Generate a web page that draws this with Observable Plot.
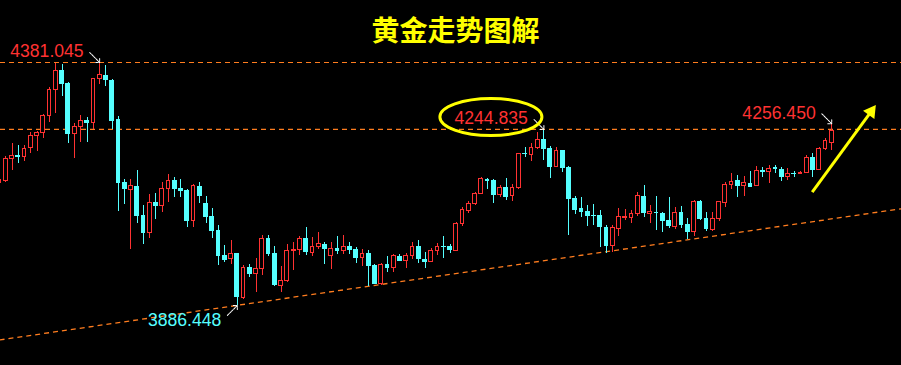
<!DOCTYPE html>
<html><head><meta charset="utf-8">
<script src="https://cdn.jsdelivr.net/npm/d3@7"></script>
<script src="https://cdn.jsdelivr.net/npm/@observablehq/plot@0.6"></script>
<style>html,body{margin:0;padding:0;background:#000;overflow:hidden}#chart svg{display:block}</style>
</head><body><div id="chart"></div>
<script>
const title = "黄金走势图解";
const open = [4135.4,4139.4,4184.2,4191.8,4188.3,4207.4,4231.0,4237.1,4272.6,4325.5,4364.8,4337.7,4235.1,4249.4,4263.0,4257.5,4347.1,4354.6,4344.4,4265.0,4136.2,4121.9,4128.7,4069.6,4033.6,4095.5,4088.6,4124.0,4140.9,4124.6,4120.5,4058.0,4128.7,4094.0,4067.6,4039.1,3988.2,3980.7,3991.7,3901.3,3963.2,3950.2,3960.3,4022.2,3991.7,3925.7,3936.7,3997.0,3999.8,4022.2,3992.3,4005.1,4011.2,3986.8,4001.9,3996.4,4006.5,3999.8,3982.7,3992.9,3967.3,3929.2,3969.3,3962.4,3986.2,3976.6,3987.6,4005.9,3980.1,3974.6,3997.8,4006.5,4006.5,3997.0,4052.3,4079.2,4093.4,4113.8,4142.9,4140.9,4111.0,4126.0,4108.9,4125.2,4196.4,4193.2,4207.4,4224.3,4206.0,4167.9,4201.3,4166.7,4103.6,4083.3,4077.2,4069.6,4069.6,4045.8,4006.9,4042.6,4063.9,4064.1,4073.1,4108.3,4073.1,4076.4,4074.3,4059.5,4045.8,4075.7,4051.3,4035.6,4098.1,4062.9,4041.1,4062.9,4095.5,4132.1,4140.9,4130.1,4134.8,4130.1,4161.2,4157.8,4166.7,4163.3,4148.4,4154.5,4153.7,4155.7,4187.7,4162.6,4204.6,4217.6];
const high = [4149.0,4189.7,4215.6,4211.5,4211.5,4239.2,4241.2,4275.2,4330.8,4379.6,4377.0,4340.3,4256.3,4272.6,4268.5,4349.0,4381.045,4374.9,4346.4,4271.1,4142.3,4142.3,4161.2,4090.0,4111.8,4113.8,4136.8,4152.5,4147.6,4142.3,4122.6,4132.1,4136.2,4107.7,4083.3,4049.3,4008.6,4018.7,3993.0,3967.3,3969.9,3982.1,4028.3,4028.3,4006.5,3965.8,4010.6,4014.7,4026.9,4045.2,4024.2,4034.4,4014.1,4014.1,4026.9,4028.9,4014.7,4005.1,3999.8,3998.4,3969.9,3971.3,3986.2,3989.6,3990.3,3991.7,4014.1,4018.7,3994.9,4003.1,4012.0,4026.9,4010.0,4055.4,4086.5,4099.1,4117.1,4146.4,4145.5,4142.3,4131.3,4144.9,4132.7,4196.4,4207.4,4216.8,4239.2,4244.835,4210.1,4207.4,4201.9,4169.4,4108.3,4105.7,4090.0,4092.0,4079.8,4049.3,4049.3,4082.9,4082.3,4079.8,4117.1,4130.7,4090.0,4108.3,4076.4,4106.3,4086.5,4088.0,4062.9,4100.2,4100.2,4076.4,4076.4,4096.7,4137.4,4155.7,4151.0,4149.0,4159.8,4169.4,4166.7,4171.4,4171.4,4166.7,4164.7,4159.8,4159.8,4191.1,4195.2,4208.7,4225.7,4256.45];
const low = [4128.7,4137.8,4161.2,4174.9,4180.2,4196.4,4200.5,4226.4,4259.5,4277.9,4312.5,4215.6,4185.0,4217.6,4218.8,4244.1,4335.7,4332.2,4244.1,4078.4,4092.0,4000.4,4054.0,4009.6,4022.2,4061.5,4076.4,4096.7,4105.7,4106.9,4045.8,4044.6,4094.7,4054.0,4023.4,3968.5,3974.0,3969.9,3886.448,3898.0,3942.8,3913.5,3948.1,3986.2,3926.1,3913.5,3933.3,3957.7,3988.2,3988.2,3986.2,3999.8,3969.9,3959.7,3990.3,3990.3,3990.3,3972.5,3965.8,3925.1,3928.2,3927.2,3953.6,3954.2,3976.0,3962.4,3979.5,3972.5,3962.4,3973.6,3988.2,3983.1,3991.7,3996.0,4047.6,4073.1,4090.0,4112.4,4122.6,4094.7,4105.7,4100.2,4098.7,4121.9,4188.3,4179.5,4203.4,4181.6,4144.3,4166.9,4156.5,4028.9,4071.7,4066.2,4047.2,4049.3,4005.1,3992.9,3994.9,4026.3,4058.8,4054.0,4067.6,4066.2,4054.0,4039.1,4035.6,4042.6,4040.5,4042.6,4020.2,4026.9,4059.5,4037.7,4037.7,4058.0,4085.3,4121.9,4106.9,4108.3,4126.6,4128.7,4146.4,4135.4,4155.7,4139.4,4140.9,4147.6,4153.1,4154.5,4147.6,4161.2,4201.9,4201.9];
const close = [4140.9,4185.0,4191.1,4188.3,4205.4,4231.0,4238.0,4272.6,4325.5,4363.3,4336.9,4234.5,4250.2,4262.4,4257.5,4347.9,4354.6,4344.4,4261.0,4135.4,4123.2,4128.7,4068.2,4033.6,4095.5,4088.6,4124.0,4140.3,4123.2,4119.1,4058.0,4128.7,4108.9,4066.2,4037.7,3986.8,3978.0,3991.7,3903.3,3963.2,3949.5,3961.1,4022.2,3990.3,3927.2,3936.7,3997.8,4000.4,4021.8,3994.9,4005.9,4012.0,4000.4,4001.9,3997.0,4005.9,3998.4,3982.7,3991.7,3966.4,3929.2,3969.3,3961.8,3986.2,3976.6,3987.6,4005.9,3979.5,3974.6,3997.8,4005.9,4004.5,3998.4,4052.7,4079.8,4093.4,4113.8,4142.9,4139.4,4110.3,4126.0,4105.7,4126.0,4195.2,4193.2,4207.4,4223.7,4204.0,4167.9,4201.3,4165.9,4102.8,4079.8,4076.4,4067.6,4068.2,4044.6,4006.5,4043.2,4065.6,4065.8,4073.1,4108.3,4073.1,4076.4,4074.3,4058.0,4047.2,4075.7,4048.7,4035.6,4098.1,4061.5,4041.1,4062.9,4096.1,4132.7,4138.2,4129.3,4134.8,4127.2,4161.2,4157.8,4164.7,4162.6,4147.6,4154.5,4153.1,4155.7,4187.1,4161.2,4205.4,4221.7,4242.6];

// horizontal resistance levels
const levels = [4381.045, 4244.835];
// rising support trend line (index, price)
const trendIdx = [0, 144.2];
const trendPrice = [3816.3, 4083.5];
// annotated extremes
const peakIdx = [16, 87, 133];
const peakPrice = [4381.045, 4244.835, 4256.45];
const troughIdx = [38];
const troughPrice = [3886.448];
const circledIdx = [87];
const circledPrice = [4244.835];
// yellow up arrow (tail, head) in index/price
const arrowIdx = [129.88, 139.29];
const arrowPrice = [4117.05, 4281.1];

const RED = "#ff3232", CYAN = "#55ffff", ORANGE = "#ff7d1f", YELLOW = "#ffff00";

const candles = open.map((o, i) => ({i, o, h: high[i], l: low[i], c: close[i], up: close[i] >= o}));
const ups = candles.filter(d => d.up), downs = candles.filter(d => !d.up);
const peaks = peakIdx.map((i, k) => ({i, p: peakPrice[k]}));
const troughs = troughIdx.map((i, k) => ({i, p: troughPrice[k]}));
const circled = circledIdx.map((i, k) => ({i, p: circledPrice[k]}));
const trend = [{x1: trendIdx[0], y1: trendPrice[0], x2: trendIdx[1], y2: trendPrice[1]}];
const yArrow = [{x1: arrowIdx[0], y1: arrowPrice[0], x2: arrowIdx[1], y2: arrowPrice[1]}];
const fmt = d3.format(".3f");

const ellipse = {
  draw(ctx) {
    const rx = 51, ry = 18.5, k = 0.5523;
    ctx.moveTo(rx, 0);
    ctx.bezierCurveTo(rx, ry * k, rx * k, ry, 0, ry);
    ctx.bezierCurveTo(-rx * k, ry, -rx, ry * k, -rx, 0);
    ctx.bezierCurveTo(-rx, -ry * k, -rx * k, -ry, 0, -ry);
    ctx.bezierCurveTo(rx * k, -ry, rx, -ry * k, rx, 0);
    ctx.closePath();
  }
};

const numFont = "Liberation Sans, Arial, sans-serif";

const chart = Plot.plot({
  width: 901,
  height: 365,
  margin: 0,
  style: {background: "#000", overflow: "hidden"},
  x: {domain: [0.153, 144.15], axis: null},
  y: {domain: [3764.3, 4507.24], axis: null},
  marks: [
    Plot.ruleY(levels, {stroke: ORANGE, strokeWidth: 1.2, strokeDasharray: "5,4"}),
    Plot.link(trend, {x1: "x1", y1: "y1", x2: "x2", y2: "y2", stroke: ORANGE, strokeWidth: 1.3, strokeDasharray: "5,4"}),
    Plot.ruleX(ups, {x: "i", y1: "l", y2: "h", stroke: RED, strokeWidth: 1, shapeRendering: "crispEdges"}),
    Plot.ruleX(downs, {x: "i", y1: "l", y2: "h", stroke: CYAN, strokeWidth: 1, shapeRendering: "crispEdges"}),
    Plot.rect(downs, {x1: d => d.i - 0.38, x2: d => d.i + 0.38, y1: "o", y2: "c", fill: CYAN, shapeRendering: "crispEdges"}),
    Plot.rect(ups, {x1: d => d.i - 0.3, x2: d => d.i + 0.3, y1: "o", y2: "c", fill: "#000", stroke: RED, strokeWidth: 1, shapeRendering: "crispEdges"}),
    // labels
    Plot.text(peaks, {x: "i", y: "p", text: d => fmt(d.p), textAnchor: "end", lineAnchor: "bottom", dx: -16, dy: -5.2, fill: RED, fontSize: 17.6, fontFamily: numFont}),
    Plot.text(troughs, {x: "i", y: "p", text: d => fmt(d.p), textAnchor: "end", lineAnchor: "bottom", dx: -16, dy: 21, fill: CYAN, fontSize: 17.6, fontFamily: numFont}),
    Plot.vector(peaks, {x: "i", y: "p", length: 14, rotate: 135, anchor: "end", stroke: "#fff", strokeWidth: 1, strokeDasharray: "2,1"}),
    Plot.vector(troughs, {x: "i", y: "p", length: 14, rotate: 45, anchor: "end", stroke: "#fff", strokeWidth: 1, strokeDasharray: "2,1"}),
    Plot.dot(circled, {x: "i", y: "p", symbol: ellipse, fill: "none", stroke: YELLOW, strokeWidth: 3, dx: -53, dy: -12.4}),
    Plot.link(yArrow, {x1: "x1", y1: "y1", x2: "x2", y2: "y2", stroke: YELLOW, strokeWidth: 3}),
    Plot.dot(yArrow, {x: "x2", y: "y2", symbol: "triangle", r: 5.2, fill: YELLOW, rotate: 36}),
    Plot.text([title], {text: d => d, frameAnchor: "top", dx: 4.5, dy: 40, lineAnchor: "bottom", fill: YELLOW, fontSize: 28, fontWeight: "bold", fontFamily: "Noto Sans CJK SC, sans-serif"})
  ]
});
document.getElementById("chart").append(chart);
</script>
</body></html>
